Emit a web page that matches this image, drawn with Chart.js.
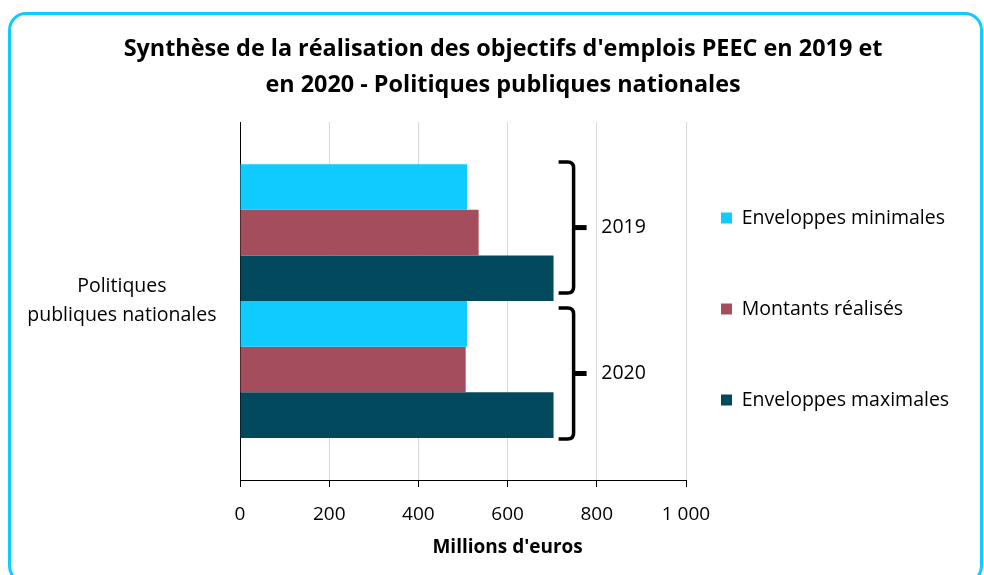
<!DOCTYPE html>
<html lang="fr">
<head>
<meta charset="utf-8">
<script src="https://cdn.jsdelivr.net/npm/chart.js@4.4.1/dist/chart.umd.min.js"></script>
<style>
  html, body { margin: 0; padding: 0; background: #fff; }
  body { width: 984px; height: 575px; overflow: hidden; position: relative; }
  #cadre { position: absolute; left: 8px; top: 12px; width: 975px; height: 572px; box-sizing: border-box; border: 3px solid #0fcbff; border-radius: 18px; }
  #zone { position: absolute; left: 0; top: 0; width: 984px; height: 575px; }
</style>
</head>
<body>
<div id="cadre"></div>
<div id="zone"><canvas id="peecChart" width="984" height="575"></canvas></div>
<script>
// données
const annees = ['2019', '2020'];
const categorie = [['Politiques', 'publiques nationales']];
const series = ['Enveloppes minimales', 'Montants réalisés', 'Enveloppes maximales'];
const enveloppesMin = [509, 509];
const montantsRealises = [535, 506];
const enveloppesMax = [703, 703];
const ticksX = [0, 200, 400, 600, 800, 1000];
const couleurs = ['#0fcbff', '#a44d5d', '#02495e'];

Chart.defaults.font.family = "'Open Sans', sans-serif";
Chart.defaults.color = '#000';

const valeurs = [enveloppesMin, montantsRealises, enveloppesMax];
const datasets = [];
annees.forEach((annee, a) => {
  series.forEach((nom, s) => {
    datasets.push({
      label: nom,
      data: [valeurs[s][a]],
      backgroundColor: couleurs[s],
      borderWidth: 0,
      categoryPercentage: 0.765,
      barPercentage: 1
    });
  });
});

function formatMilliers(v){
  return String(v).replace(/\B(?=(\d{3})+(?!\d))/g, ' ');
}

// accolades + années à droite des barres
const accolades = {
  id: 'accolades',
  afterDatasetsDraw(chart) {
    const ctx = chart.ctx;
    const sx = chart.scales.x;
    const xv = sx.getPixelForValue(748);
    ctx.save();
    annees.forEach((annee, a) => {
      const premier = chart.getDatasetMeta(a * 3).data[0].getProps(['y', 'height'], true);
      const dernier = chart.getDatasetMeta(a * 3 + 2).data[0].getProps(['y', 'height'], true);
      const haut = premier.y - premier.height / 2;
      const bas = dernier.y + dernier.height / 2;
      const milieu = (haut + bas) / 2 + (a === 0 ? -5 : 4);
      const demi = 65.5;
      const h = milieu - demi, b = milieu + demi;
      ctx.strokeStyle = '#000';
      ctx.lineWidth = 3.5;
      ctx.lineJoin = 'round';
      ctx.beginPath();
      ctx.moveTo(xv - 15, h);
      ctx.lineTo(xv - 6, h);
      ctx.quadraticCurveTo(xv, h, xv, h + 6);
      ctx.lineTo(xv, b - 6);
      ctx.quadraticCurveTo(xv, b, xv - 6, b);
      ctx.lineTo(xv - 15, b);
      ctx.stroke();
      ctx.lineWidth = 5;
      ctx.beginPath();
      ctx.moveTo(xv, milieu);
      ctx.lineTo(xv + 13, milieu);
      ctx.stroke();
      ctx.fillStyle = '#000';
      ctx.font = "19.5px 'Open Sans', sans-serif";
      ctx.textAlign = 'left';
      ctx.textBaseline = 'middle';
      ctx.fillText(annee, sx.getPixelForValue(810), milieu);
    });
    // titre de l'axe horizontal
    ctx.font = "bold 19px 'Open Sans', sans-serif";
    ctx.textAlign = 'center';
    ctx.fillText("Millions d'euros", sx.getPixelForValue(600), sx.bottom - 27);
    ctx.restore();
  }
};

// titre sur toute la largeur, légende à droite du graphique, items espacés
const placement = {
  id: 'placement',
  afterLayout(chart) {
    const ca = chart.chartArea;
    const t = chart.titleBlock;
    t.left = 22; t.right = chart.width;
    const lg = chart.legend;
    const pad = lg.options.labels.padding;
    const fs = lg.options.labels.font.size;
    lg.left = ca.right + 35 - pad;
    lg.right = chart.width;
    lg.top = ca.top + 96 - fs / 2 - pad;
    lg.bottom = chart.height;
  }
};

new Chart('peecChart', {
  type: 'bar',
  data: { labels: categorie, datasets: datasets },
  options: {
    indexAxis: 'y',
    responsive: false,
    animation: false,
    layout: { padding: { left: 0, right: 298, top: 0, bottom: 0 } },
    scales: {
      x: {
        min: 0,
        max: 1000,
        afterBuildTicks: s => { s.ticks = ticksX.map(v => ({ value: v })); },
        afterFit: s => { s.height = 95; },
        grid: { color: '#d9d9d9', tickColor: '#000', tickLength: 7, lineWidth: 1 },
        border: { color: '#000', width: 1 },
        ticks: { font: { size: 19 }, padding: 16, maxRotation: 0, callback: v => formatMilliers(v) }
      },
      y: {
        afterFit: s => { s.width = 240; },
        grid: { display: false, drawTicks: false },
        border: { color: '#000', width: 1 },
        ticks: { font: { size: 19.5, lineHeight: 1.47 }, crossAlign: 'center', padding: 23.5 }
      }
    },
    plugins: {
      title: {
        display: true,
        text: ["Synthèse de la réalisation des objectifs d'emplois PEEC en 2019 et", 'en 2020 - Politiques publiques nationales'],
        font: { size: 23.4, weight: 'bold', lineHeight: 1.54 },
        color: '#000',
        padding: { top: 31, bottom: 19 }
      },
      legend: {
        position: 'chartArea',
        align: 'start',
        labels: {
          boxWidth: 11,
          boxHeight: 11,
          padding: 71.5,
          font: { size: 19.5 },
          color: '#000',
          filter: item => item.datasetIndex < series.length
        }
      },
      tooltip: { enabled: false }
    }
  },
  plugins: [accolades, placement]
});
</script>
</body>
</html>
